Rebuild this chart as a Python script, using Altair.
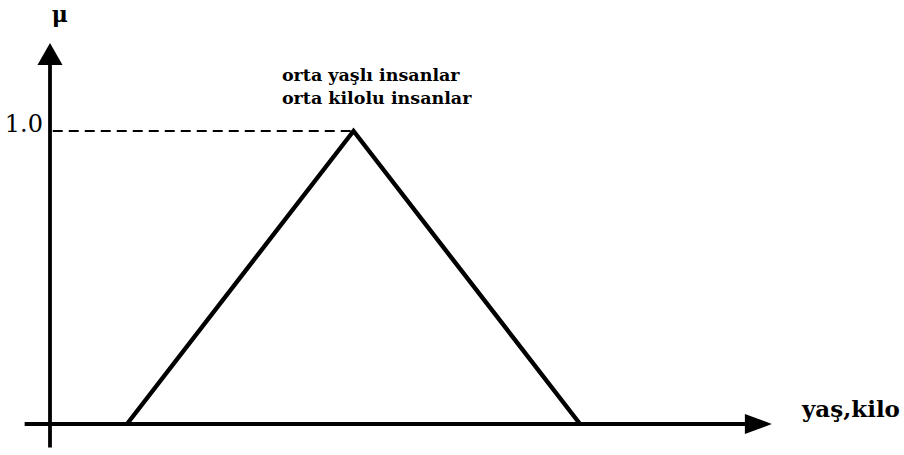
import altair as alt
import pandas as pd

# Triangular membership function: support ends and the peak
tri_x = [8.5, 33.5, 58.5]
tri_mu = [0.0, 1.0, 0.0]

# Axis extents (the arrows start from the origin at x=0, mu=0)
x_axis_x = [-2.8, 77.5]
y_axis_mu = [-0.08, 1.23]
x_arrow_x = 76.7
y_arrow_mu = 1.225

# Guide from the mu axis to the peak
guide_x = [0.3, 33.5]
guide_mu = 1.0

# Text labels
peak_lines = ["orta yaşlı insanlar", "orta kilolu insanlar"]
peak_line_x = 25.6
peak_line_mu = [1.171, 1.092]
x_title = "yaş,kilo"
x_title_pos = (83.0, 0.024)
y_title = "μ"
y_title_pos = (0.2, 1.372)
tick_label = "1.0"
tick_value = 1.0

FONT = "DejaVu Serif"
X = alt.Scale(domain=[-5.519, 94.26], nice=False, zero=False)
Y = alt.Scale(domain=[-0.1058, 1.4471], nice=False, zero=False)


def xe(field="x"):
    return alt.X(f"{field}:Q", scale=X, axis=None)


def ye(field="mu"):
    return alt.Y(f"{field}:Q", scale=Y, axis=None)


tri = alt.Chart(pd.DataFrame({"x": tri_x, "mu": tri_mu, "o": [0, 1, 2]})).mark_line(
    color="black", strokeWidth=4.4, strokeJoin="miter"
).encode(x=xe(), y=ye(), order="o:Q")

x_axis = alt.Chart(pd.DataFrame({"x": [x_axis_x[0]], "x2": [x_axis_x[1]], "mu": [0.0]})).mark_rule(
    color="black", strokeWidth=3.8
).encode(x=xe(), x2="x2:Q", y=ye())

y_axis = alt.Chart(pd.DataFrame({"x": [0.0], "mu": [y_axis_mu[0]], "mu2": [y_axis_mu[1]]})).mark_rule(
    color="black", strokeWidth=3.8
).encode(x=xe(), y=ye(), y2="mu2:Q")

guide = alt.Chart(pd.DataFrame({"x": [guide_x[0]], "x2": [guide_x[1]], "mu": [guide_mu]})).mark_rule(
    color="black", strokeWidth=1.8, strokeDash=[10, 6]
).encode(x=xe(), x2="x2:Q", y=ye())

up_head = alt.Chart(pd.DataFrame({"x": [0.0], "mu": [y_arrow_mu]})).mark_point(
    shape="M0,-1L0.57,0L-0.57,0Z", size=1936, filled=True, color="black", opacity=1
).encode(x=xe(), y=ye())

right_head = alt.Chart(pd.DataFrame({"x": [x_arrow_x], "mu": [0.0]})).mark_point(
    shape="M1,0L0,-0.37L0,0.37Z", size=2916, filled=True, color="black", opacity=1
).encode(x=xe(), y=ye())

peak_text = alt.Chart(pd.DataFrame({
    "x": [peak_line_x] * len(peak_lines), "mu": peak_line_mu, "t": peak_lines
})).mark_text(
    font=FONT, fontSize=17.5, fontWeight="bold", align="left", baseline="alphabetic", color="black"
).encode(x=xe(), y=ye(), text="t:N")

x_title_text = alt.Chart(pd.DataFrame({"x": [x_title_pos[0]], "mu": [x_title_pos[1]], "t": [x_title]})).mark_text(
    font=FONT, fontSize=23, fontWeight="bold", align="left", baseline="alphabetic", color="black"
).encode(x=xe(), y=ye(), text="t:N")

y_title_text = alt.Chart(pd.DataFrame({"x": [y_title_pos[0]], "mu": [y_title_pos[1]], "t": [y_title]})).mark_text(
    font=FONT, fontSize=22, fontWeight="bold", align="left", baseline="alphabetic", color="black"
).encode(x=xe(), y=ye(), text="t:N")

tick_text = alt.Chart(pd.DataFrame({"x": [0.0], "mu": [tick_value], "t": [tick_label]})).mark_text(
    font=FONT, fontSize=24, align="right", baseline="alphabetic", dx=-7, dy=1, color="black"
).encode(x=xe(), y=ye(), text="t:N")

chart = alt.layer(
    guide, tri, x_axis, y_axis, up_head, right_head,
    peak_text, x_title_text, y_title_text, tick_text
).properties(
    width=904, height=455, padding=0, autosize=alt.AutoSizeParams(type="none"),
    background="white"
).configure_view(stroke=None)

chart.save("out.html", embed_options={"renderer": "svg", "actions": False})
